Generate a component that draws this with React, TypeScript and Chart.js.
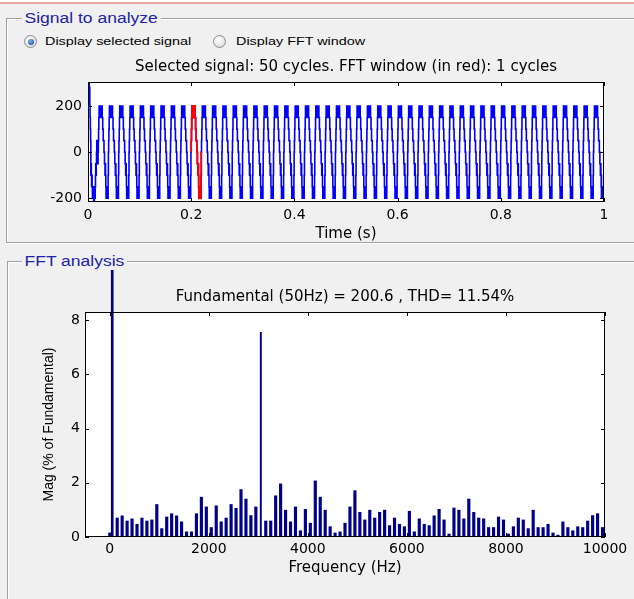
import React, { useEffect, useRef } from 'react';
import { Chart, registerables } from 'chart.js';

Chart.register(...registerables);
Chart.defaults.color = '#000';
Chart.defaults.font.family = '"DejaVu Sans", sans-serif';

// ---------- Signal to analyze (top plot) ----------
const SAMPLE_STEP = 0.0005; // seconds per sample (40 samples per 50 Hz cycle)
const CYCLE_COUNT = 50;
// first (transient) cycle
const firstCycle = [
  0, 300, 260, 300, 240, 300, 250, 280, 200, 150,
  100, 50, -100, -50, -100, -150, -100, -150, -200, -150,
  -200, -150, -200, -215, -200, -215, -200, -150, -200, -150,
  -100, -50, -100, -50, 0, 50, 0, 50, 0, -50,
];
// steady-state stepped (multilevel, PWM between adjacent levels) cycle
const steadyCycle = [
  0, 50, 100, 150, 200, 150, 200, 150, 200, 200,
  150, 200, 150, 200, 150, 200, 150, 150, 100, 100,
  50, 50, 50, 0, 0, -50, -50, -100, -50, -100,
  -150, -200, -150, -200, -200, -150, -200, -150, -200, -100,
];
const fftWindowCycle = 10; // 0.20 s .. 0.22 s drawn in red
const timeTicks = [0, 0.2, 0.4, 0.6, 0.8, 1];
const signalTicks = [-200, 0, 200];
const timeMin = 0;
const timeMax = 1;
const signalMin = -216;
const signalMax = 304;

// ---------- FFT analysis (bottom plot) ----------
const FUNDAMENTAL_HZ = 50;
const dcMag = 0.15;
const fundamentalMag = 100; // % of fundamental
// odd harmonics 3, 5, 7 ... 199 (150 Hz ... 9950 Hz)
const oddHarmonicMags = [
  0.70, 0.78, 0.59, 0.67, 0.47, 0.70, 0.59, 0.63, 1.20, 0.31,
  0.74, 0.86, 0.78, 0.56, 0.19, 0.19, 0.86, 1.47, 1.11, 0.35,
  1.15, 0.56, 0.70, 1.20, 1.06, 1.75, 1.40, 0.79, 1.11, 7.55,
  0.59, 0.59, 1.52, 1.96, 0.99, 0.56, 1.11, 0.23, 1.02, 0.51,
  2.07, 1.47, 0.99, 0.38, 0.15, 0.19, 0.51, 1.11, 1.71, 0.91,
  0.63, 0.99, 0.70, 0.91, 0.99, 0.42, 0.70, 0.47, 0.38, 0.95,
  0.19, 0.67, 0.47, 0.42, 0.78, 1.02, 0.63, 0.11, 1.07, 0.99,
  0.67, 1.40, 0.91, 0.70, 0.67, 0.35, 0.35, 0.74, 0.63, 0.11,
  0.38, 0.70, 0.63, 0.31, 0.99, 0.35, 0.35, 0.47, 0.15, 0.07,
  0.56, 0.35, 0.23, 0.38, 0.35, 0.59, 0.79, 0.86, 0.35,
];
const freqTicks = [0, 2000, 4000, 6000, 8000, 10000];
const magTicks = [0, 2, 4, 6, 8];
const freqMin = -500;
const freqMax = 10000;
const magMin = 0;
const magMax = 8.3;

// ---------- build datasets ----------
const signalValues: number[] = [...firstCycle];
for (let c = 1; c < CYCLE_COUNT; c++) signalValues.push(...steadyCycle);
signalValues.push(steadyCycle[0]);
const signalPoints = signalValues.map((v, i) => ({ x: i * SAMPLE_STEP, y: v }));
const perCycle = steadyCycle.length;
const windowPoints = signalPoints.slice(fftWindowCycle * perCycle, (fftWindowCycle + 1) * perCycle + 1);

const harmonicPoints = [
  { x: 0, y: dcMag },
  ...oddHarmonicMags.map((m, i) => ({ x: (2 * i + 3) * FUNDAMENTAL_HZ, y: m })),
];
const fundamentalPoints = [{ x: FUNDAMENTAL_HZ, y: fundamentalMag }];
const dominantMag = Math.max(...oddHarmonicMags);
const regularBars = harmonicPoints.filter((p) => p.y !== dominantMag);
const dominantBars = harmonicPoints.filter((p) => p.y === dominantMag);

const matlabAxes = {
  id: 'matlabAxes',
  beforeDraw(chart: any) {
    const { ctx, chartArea: a } = chart;
    ctx.save();
    ctx.fillStyle = '#ffffff';
    ctx.fillRect(a.left, a.top, a.right - a.left, a.bottom - a.top);
    ctx.restore();
  },
  afterDraw(chart: any) {
    const { ctx, chartArea: a, scales } = chart;
    const xs = scales.x;
    const ys = scales.y;
    const L = 4;
    ctx.save();
    ctx.strokeStyle = '#000';
    ctx.lineWidth = 1;
    ctx.strokeRect(a.left + 0.5, a.top + 0.5, a.right - a.left - 1, a.bottom - a.top - 1);
    ctx.beginPath();
    xs.ticks.forEach((t: any) => {
      const p = Math.round(xs.getPixelForValue(t.value)) + 0.5;
      ctx.moveTo(p, a.bottom); ctx.lineTo(p, a.bottom - L);
      ctx.moveTo(p, a.top); ctx.lineTo(p, a.top + L);
    });
    ys.ticks.forEach((t: any) => {
      const p = Math.round(ys.getPixelForValue(t.value)) + 0.5;
      ctx.moveTo(a.left, p); ctx.lineTo(a.left + L, p);
      ctx.moveTo(a.right, p); ctx.lineTo(a.right - L, p);
    });
    ctx.stroke();
    ctx.restore();
  },
};

const tickFont = { family: '"DejaVu Sans", sans-serif', size: 14, weight: 'normal' as const, lineHeight: 1.2 };
const titleFont = { family: '"DejaVu Sans", sans-serif', size: 15, weight: 'normal' as const, lineHeight: 1.2 };

function SignalChart() {
  const ref = useRef<HTMLCanvasElement>(null);
  useEffect(() => {
    const chart = new Chart(ref.current!, {
      type: 'line',
      data: {
        datasets: [
          { data: windowPoints, order: 0, borderColor: '#ff0000', borderWidth: 1.8, pointRadius: 0, stepped: 'after', fill: false },
          { data: signalPoints, order: 1, borderColor: '#0000ff', borderWidth: 1.6, pointRadius: 0, stepped: 'after', fill: false },
        ],
      } as any,
      options: {
        animation: false,
        responsive: false,
        events: [],
        layout: { padding: { left: 0, right: 30, top: 0, bottom: 0 } },
        plugins: {
          legend: { display: false },
          tooltip: { enabled: false },
          title: {
            display: true,
            fullSize: false,
            text: 'Selected signal: 50 cycles. FFT window (in red): 1 cycles',
            font: titleFont,
            color: '#000',
            padding: { top: 8, bottom: 6 },
          },
        },
        scales: {
          x: {
            type: 'linear', min: timeMin, max: timeMax,
            grid: { display: false, drawTicks: false }, border: { display: false },
            afterBuildTicks: (s: any) => { s.ticks = timeTicks.map((v) => ({ value: v })); },
            afterFit: (s: any) => { s.height = 48; },
            ticks: { padding: 5, font: tickFont, color: '#000', autoSkip: false, maxRotation: 0, callback: (v: any) => String(v) },
            title: { display: true, text: 'Time (s)', font: titleFont, color: '#000', padding: { top: 0, bottom: 7 } },
          },
          y: {
            type: 'linear', min: signalMin, max: signalMax,
            grid: { display: false, drawTicks: false }, border: { display: false },
            afterBuildTicks: (s: any) => { s.ticks = signalTicks.map((v) => ({ value: v })); },
            afterFit: (s: any) => { s.width = 88; },
            ticks: { padding: 6, font: tickFont, color: '#000', autoSkip: false, callback: (v: any) => String(v) },
          },
        },
      } as any,
      plugins: [matlabAxes],
    });
    return () => chart.destroy();
  }, []);
  return <canvas ref={ref} width={634} height={200} style={{ position: 'absolute', left: 0, top: 50 }} />;
}

function SpectrumChart() {
  const ref = useRef<HTMLCanvasElement>(null);
  useEffect(() => {
    const clip = { left: 0, top: 42, right: 0, bottom: 0 };
    const chart = new Chart(ref.current!, {
      type: 'bar',
      data: {
        datasets: [
          { data: regularBars, backgroundColor: '#000088', borderWidth: 0, barThickness: 2.5, grouped: false, clip },
          { data: fundamentalPoints, backgroundColor: '#000088', borderWidth: 0, barThickness: 2, grouped: false, clip },
          { data: dominantBars, backgroundColor: '#000088', borderWidth: 0, barThickness: 1.3, grouped: false, clip },
        ],
      } as any,
      options: {
        animation: false,
        responsive: false,
        events: [],
        layout: { padding: { left: 0, right: 29, top: 0, bottom: 0 } },
        plugins: {
          legend: { display: false },
          tooltip: { enabled: false },
          title: {
            display: true,
            fullSize: false,
            text: 'Fundamental (50Hz) = 200.6 , THD= 11.54%',
            font: titleFont,
            color: '#000',
            padding: { top: 18, bottom: 6 },
          },
        },
        scales: {
          x: {
            type: 'linear', min: freqMin, max: freqMax, offset: false,
            grid: { display: false, drawTicks: false, offset: false }, border: { display: false },
            afterBuildTicks: (s: any) => { s.ticks = freqTicks.map((v) => ({ value: v })); },
            afterFit: (s: any) => { s.height = 62; },
            ticks: { padding: 4, font: tickFont, color: '#000', autoSkip: false, maxRotation: 0, callback: (v: any) => String(v) },
            title: { display: true, text: 'Frequency (Hz)', font: titleFont, color: '#000', padding: { top: 0, bottom: 22 } },
          },
          y: {
            type: 'linear', min: magMin, max: magMax,
            grid: { display: false, drawTicks: false }, border: { display: false },
            afterBuildTicks: (s: any) => { s.ticks = magTicks.map((v) => ({ value: v })); },
            afterFit: (s: any) => { s.width = 85; },
            ticks: { padding: 5, font: tickFont, color: '#000', autoSkip: false, callback: (v: any) => String(v) },
            title: {
              display: true, text: 'Mag (% of Fundamental)',
              font: { family: '"Liberation Sans", Arial, sans-serif', size: 14, weight: 'normal', lineHeight: 1.2 },
              color: '#000', padding: { top: 41, bottom: 0 },
            },
          },
        },
      } as any,
      plugins: [matlabAxes],
    });
    return () => chart.destroy();
  }, []);
  return <canvas ref={ref} width={634} height={329} style={{ position: 'absolute', left: 0, top: 270 }} />;
}

const groupTitle: React.CSSProperties = {
  position: 'absolute',
  padding: '0 2px',
  background: '#f0f0f0',
  color: '#2323a8',
  font: '14px "Liberation Sans", Arial, sans-serif',
  lineHeight: '18px',
  transform: 'scaleX(1.25)',
  transformOrigin: 'left center',
  whiteSpace: 'nowrap',
};

const radioLabel: React.CSSProperties = {
  position: 'absolute',
  color: '#000',
  font: '11.5px "Liberation Sans", Arial, sans-serif',
  lineHeight: '14px',
  transform: 'scaleX(1.25)',
  transformOrigin: 'left center',
  whiteSpace: 'nowrap',
};

function Radio({ left, top, checked }: { left: number; top: number; checked: boolean }) {
  return (
    <div
      style={{
        position: 'absolute', left, top, width: 13, height: 13, boxSizing: 'border-box',
        borderRadius: '50%', border: '1px solid #8a8a8a',
        background: 'radial-gradient(circle at 40% 35%, #ffffff, #d4d4d4)',
      }}
    >
      {checked && (
        <div
          style={{
            position: 'absolute', left: 2.5, top: 2.5, width: 6, height: 6, borderRadius: '50%',
            background: 'radial-gradient(circle at 40% 35%, #7fb2e5, #0d3f8f)',
          }}
        />
      )}
    </div>
  );
}

export default function App() {
  return (
    <div
      style={{
        position: 'fixed', left: 0, top: 0, width: 634, height: 599, overflow: 'hidden',
        background: '#f0f0f0',
      }}
    >
      <div style={{ position: 'absolute', left: 0, top: 0, width: 634, height: 2, background: '#ffffff' }} />
      <div style={{ position: 'absolute', left: 0, top: 2, width: 634, height: 2, background: '#e6a4a4' }} />

      {/* Signal to analyze group */}
      <div
        style={{
          position: 'absolute', left: 6, top: 18, width: 660, height: 225, boxSizing: 'border-box',
          border: '1px solid #a0a0a0', boxShadow: 'inset 1px 1px 0 #ffffff, 1px 1px 0 #ffffff',
        }}
      />
      <span style={{ ...groupTitle, left: 22, top: 9 }}>Signal to analyze</span>

      <Radio left={24} top={35} checked={true} />
      <span style={{ ...radioLabel, left: 45, top: 34 }}>Display selected signal</span>
      <Radio left={213} top={35} checked={false} />
      <span style={{ ...radioLabel, left: 236, top: 34 }}>Display FFT window</span>

      {/* FFT analysis group */}
      <div
        style={{
          position: 'absolute', left: 7, top: 261, width: 660, height: 400, boxSizing: 'border-box',
          border: '1px solid #a0a0a0', boxShadow: 'inset 1px 1px 0 #ffffff, 1px 1px 0 #ffffff',
        }}
      />
      <span style={{ ...groupTitle, left: 22, top: 252 }}>FFT analysis</span>

      <SignalChart />
      <SpectrumChart />
    </div>
  );
}
